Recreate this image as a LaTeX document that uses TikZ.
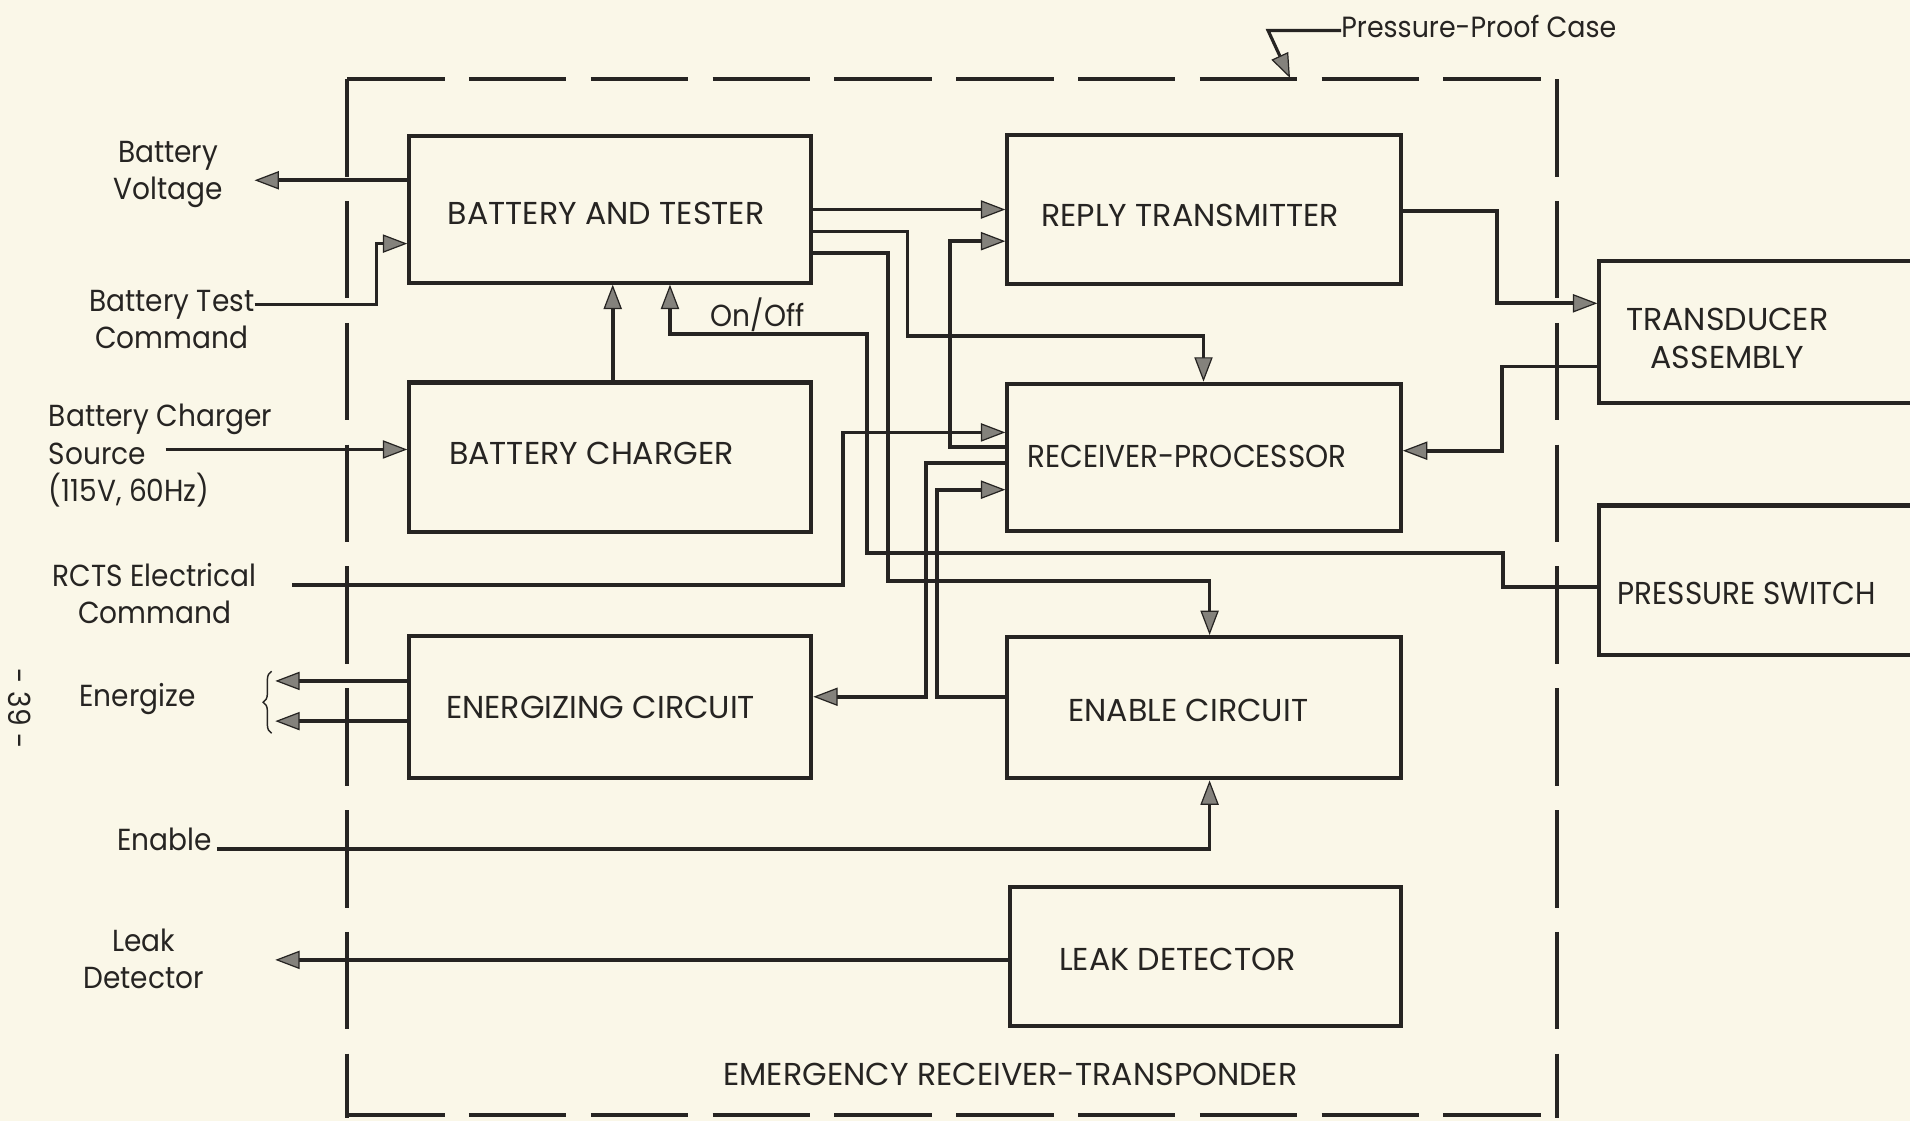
\documentclass[tikz,border=0pt]{standalone}
\usepackage{fontspec}
\setmainfont{Poppins}[FakeStretch=0.92]
\newfontfamily\capsfont{Poppins}[FakeStretch=1.0]
\usetikzlibrary{arrows.meta,decorations.pathreplacing}
\definecolor{paper}{RGB}{250,247,232}
\definecolor{ink}{RGB}{38,36,34}
\definecolor{tipfill}{RGB}{132,130,124}
\newcommand\labfont{\fontsize{25}{30.5}\selectfont}
\newcommand\boxfont{\capsfont\fontsize{26}{31}\selectfont}
\begin{document}
\begin{tikzpicture}[x=1pt,y=-1pt,
  box/.style={draw=ink, line width=3.4pt, rectangle, inner sep=0pt},
  btxt/.style={inner sep=0pt, text=ink, font=\boxfont, align=center},
  lab/.style={inner sep=0pt, text=ink, font=\labfont, align=center},
  wire/.style={draw=ink, line width=3pt},
  case/.style={draw=ink, line width=3.2pt, dash pattern=on 80pt off 20pt},
  >={Triangle[length=20pt,width=15pt,fill=tipfill,line width=1pt]}
]
\fill[paper] (0,0) rectangle (1568,920);
\clip (0,0) rectangle (1568,920);
\useasboundingbox (0,0) rectangle (1568,920);

% pressure-proof case
\draw[case] (285,65) -- (1278,65);
\draw[case] (285,65) -- (285,918);
\draw[case] (1278,65) -- (1278,918);
\draw[case] (285,915) -- (1278,915);

% boxes
\node[box, minimum width=330pt, minimum height=120pt] (bat) at (501,172) {};
\node[box, minimum width=330pt, minimum height=123pt] (chg) at (501,375.5) {};
\node[box, minimum width=323pt, minimum height=122pt] (rt) at (988.5,172) {};
\node[box, minimum width=323pt, minimum height=121pt] (rp) at (988.5,375.5) {};
\node[box, minimum width=330pt, minimum height=117pt] (en) at (501,580.5) {};
\node[box, minimum width=323pt, minimum height=116pt] (ec) at (988.5,581) {};
\node[box, minimum width=321pt, minimum height=114pt] (ld) at (989.5,785) {};
\node[box, minimum width=300pt, minimum height=117pt] (td) at (1463,272.5) {};
\node[box, minimum width=300pt, minimum height=123pt] (ps) at (1463,476.5) {};

% box texts
\node[btxt] (batt) at (497.5,175) {BATTERY AND TESTER};
\node[btxt] (chgt) at (485.5,372) {BATTERY CHARGER};
\node[btxt] (rtt) at (977,177) {REPLY TRANSMITTER};
\node[btxt] (rpt) at (974.5,375) {\scalebox{0.93}[1]{RECEIVER-PROCESSOR}};
\node[btxt] (ent) at (493,581) {ENERGIZING CIRCUIT};
\node[btxt] (ect) at (975.5,583) {ENABLE CIRCUIT};
\node[btxt] (ldt) at (966.5,788) {LEAK DETECTOR};
\node[btxt] (tdt) at (1418,278) {TRANSDUCER\\ASSEMBLY};
\node[btxt] (pst) at (1434,487) {\scalebox{0.93}[1]{PRESSURE SWITCH}};
\node[btxt] (ert) at (829.5,882) {EMERGENCY RECEIVER-TRANSPONDER};

% outside labels
\node[lab] (bvl) at (138,143) {Battery\\Voltage};
\node[lab] (btl) at (141,262) {Battery Test\\Command};
\node[lab, align=left, anchor=west] (bcl) at (40,374) {Battery Charger\\Source\\(115V, 60Hz)};
\node[lab] (rcl) at (127,487) {RCTS Electrical\\Command};
\node[lab] (enl) at (113,574) {Energize};
\node[lab] (eal) at (135,689) {Enable};
\node[lab] (ldl) at (118,787) {Leak\\Detector};
\node[lab] (onoff) at (622,258) {On/Off};
\node[lab, anchor=west, font=\fontsize{24}{29}\selectfont] (ppc) at (1101,22) {Pressure-Proof Case};
\node[lab, rotate=-90] (pg) at (16,582) {- 39 -};

% free ends
\coordinate (bv) at (209,148);
\coordinate (btc) at (209,250);
\coordinate (bcs) at (136,369);
\coordinate (rcts) at (240,480);
\coordinate (enab) at (178,697);
\coordinate (ldo) at (226,788);
\coordinate (eo1) at (226,559);
\coordinate (eo2) at (226,592);
\coordinate (ppa) at (1041,25);
\coordinate (ppt) at (1059,64);

% connectors
\draw[wire,->] (bat.west |- 0,148) -- (bv);
\draw[wire,->] (btc) -- (309,250) -- (309,200) -- (bat.west |- 0,200);
\draw[wire,->] (bcs) -- (chg.west |- 0,369);
\draw[wire,->] (503,0 |- chg.north) -- (503,0 |- bat.south);
\draw[wire,->] (ps.west |- 0,482) -- (1234,482) -- (1234,454) -- (712,454) -- (712,274) -- (550,274) -- (550,0 |- bat.south);
\draw[wire,->] (rcts) -- (692,480) -- (692,355) -- (rp.west |- 0,355);
\draw[wire,->] (bat.east |- 0,172) -- (rt.west |- 0,172);
\draw[wire,->] (bat.east |- 0,190) -- (745,190) -- (745,276) -- (988,276) -- (988,0 |- rp.north);
\draw[wire,->] (bat.east |- 0,207.5) -- (729,207.5) -- (729,477) -- (993,477) -- (993,0 |- ec.north);
\draw[wire,->] (rp.west |- 0,367) -- (780,367) -- (780,198) -- (rt.west |- 0,198);
\draw[wire,->] (rp.west |- 0,380) -- (760,380) -- (760,572) -- (en.east |- 0,572);
\draw[wire,->] (ec.west |- 0,572) -- (769,572) -- (769,402) -- (rp.west |- 0,402);
\draw[wire,->] (td.west |- 0,301) -- (1233,301) -- (1233,370) -- (rp.east |- 0,370);
\draw[wire,->] (rt.east |- 0,173) -- (1229,173) -- (1229,249) -- (td.west |- 0,249);
\draw[wire,->] (enab) -- (993,697) -- (993,0 |- ec.south);
\draw[wire,->] (ld.west |- 0,788) -- (ldo);
\draw[wire,->] (en.west |- 0,559) -- (eo1);
\draw[wire,->] (en.west |- 0,592) -- (eo2);
\draw[wire,line width=2.6pt,->] (ppc.west |- 0,25) -- (ppa) -- (ppt);

% brace
\draw[ink, line width=1.2pt, decorate, decoration={brace, amplitude=7pt}] (223,602) -- (223,551);
\end{tikzpicture}
\end{document}
